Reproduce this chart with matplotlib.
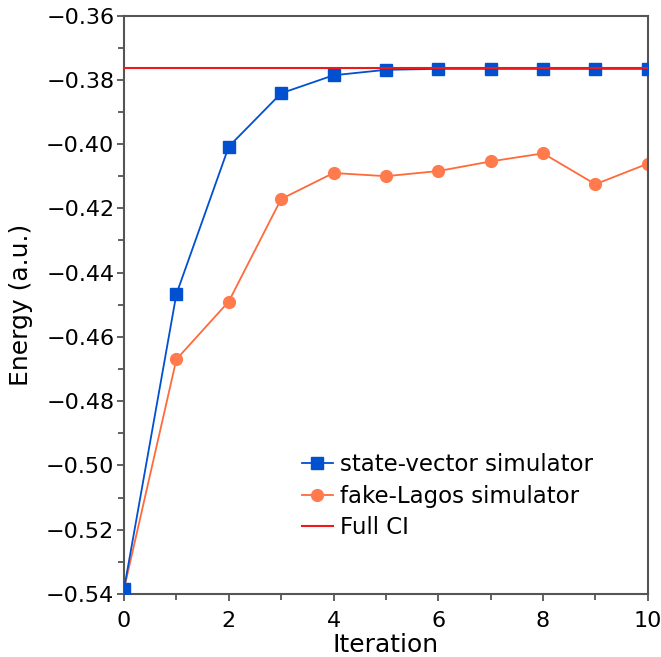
import numpy as np
import matplotlib
matplotlib.use('Agg')
import matplotlib.pyplot as plt
from matplotlib.ticker import MultipleLocator, FuncFormatter

# iteracoes e energias
iteracao = [0, 1, 2, 3, 4, 5, 6, 7, 8, 9, 10]
energia_sv = [-0.5385, -0.4467, -0.4008, -0.3842, -0.3786, -0.3769,
              -0.3766, -0.3766, -0.3766, -0.3766, -0.3766]
energia_lagos = [-0.5385, -0.4670, -0.4490, -0.4171, -0.4090, -0.4100,
                 -0.4084, -0.4054, -0.4029, -0.4125, -0.4061]
full_ci = -0.3764

plt.rcParams['font.family'] = 'DejaVu Sans'

fig = plt.figure(figsize=(6.61, 6.57), dpi=100)
ax = fig.add_axes([0.1876, 0.0959, 0.7924, 0.8805])

ax.plot(iteracao, energia_sv, '-s', color='#0050d0', lw=1.3, ms=8.5,
        label='state-vector simulator', zorder=3)
ax.plot(iteracao, energia_lagos, '-o', color='#ff6a3a', lw=1.3, ms=8.5,
        markerfacecolor='#ff7a4c', markeredgecolor='#ff7a4c',
        label='fake-Lagos simulator', zorder=2)
ax.axhline(full_ci, color='#f01818', lw=1.5, label='Full CI', zorder=4)

ax.set_xlim(0, 10)
ax.set_ylim(-0.54, -0.36)
ax.xaxis.set_major_locator(MultipleLocator(2))
ax.xaxis.set_minor_locator(MultipleLocator(1))
ax.yaxis.set_major_locator(MultipleLocator(0.02))
ax.yaxis.set_minor_locator(MultipleLocator(0.01))
ax.yaxis.set_major_formatter(FuncFormatter(lambda v, p: ('%.2f' % v).replace('-', '\u2212')))

for s in ax.spines.values():
    s.set_color('#555555')
    s.set_linewidth(1.5)
ax.tick_params(which='both', direction='out', color='#555555', width=1.3,
               labelsize=16, top=False, right=False)
ax.tick_params(which='major', length=5, pad=2)
ax.tick_params(which='minor', length=4)
ax.tick_params(axis='x', which='major', pad=7)

ax.set_xlabel('Iteration', fontsize=18, labelpad=2)
ax.set_ylabel('Energy (a.u.)', fontsize=18, labelpad=9)

ax.legend(loc='upper left', bbox_to_anchor=(302 / 661, 1 - 453 / 657),
          bbox_transform=fig.transFigure, frameon=False, borderpad=0,
          borderaxespad=0, fontsize=16.5, handlelength=1.35,
          handletextpad=0.3, labelspacing=0.38)

fig.savefig('out.png', dpi=100)
